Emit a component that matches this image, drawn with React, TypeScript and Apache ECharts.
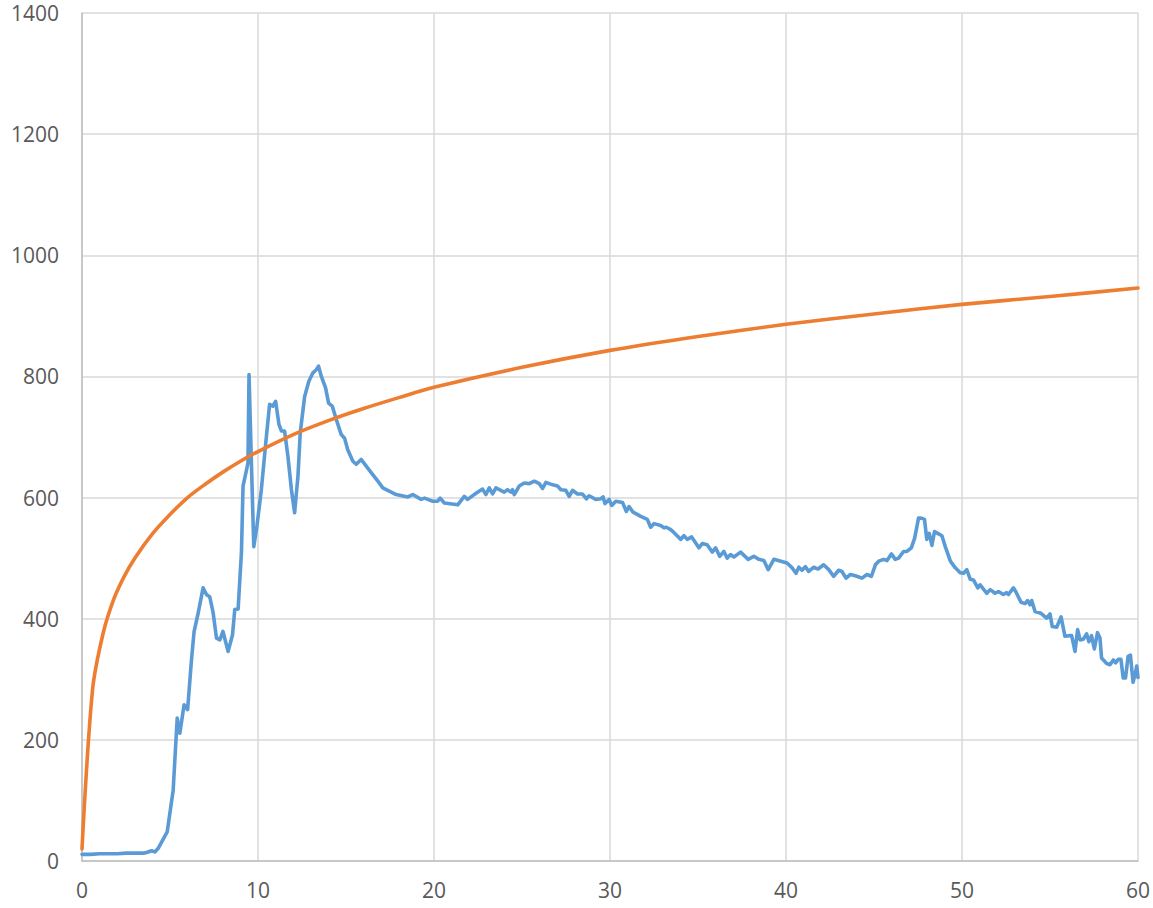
import React, { useEffect, useRef } from "react";
import * as echarts from "echarts";

const xTicks = [0, 10, 20, 30, 40, 50, 60];
const yTicks = [0, 200, 400, 600, 800, 1000, 1200, 1400];

const blueX = [
  0, 0.5, 1.0, 1.5, 2.0, 2.5, 3.0, 3.5, 3.67, 3.95, 4.14, 4.33, 4.84, 5.18, 5.41, 5.56, 5.8, 6.0, 6.22, 6.37,
  6.6, 6.88, 7.07, 7.26, 7.45, 7.64, 7.83, 8.01, 8.3, 8.55, 8.68, 8.87, 9.06, 9.15, 9.43, 9.49, 9.62, 9.76, 9.94, 10.19,
  10.44, 10.66, 10.85, 11.0, 11.19, 11.33, 11.51, 11.7, 11.9, 12.08, 12.27, 12.4, 12.65, 12.89, 13.12, 13.31, 13.44, 13.6, 13.84, 14.01,
  14.22, 14.45, 14.73, 14.92, 15.1, 15.39, 15.58, 15.86, 16.15, 16.52, 16.81, 17.09, 17.85, 18.51, 18.79, 19.27, 19.46, 19.93, 20.21, 20.35,
  20.59, 21.35, 21.72, 21.91, 22.39, 22.76, 22.95, 23.14, 23.33, 23.52, 23.99, 24.18, 24.37, 24.46, 24.56, 24.84, 25.13, 25.41, 25.7, 25.98,
  26.17, 26.36, 26.74, 27.02, 27.21, 27.49, 27.68, 27.87, 28.15, 28.43, 28.66, 28.81, 29.19, 29.48, 29.61, 29.72, 29.95, 30.1, 30.33, 30.71,
  30.93, 31.08, 31.31, 31.75, 32.12, 32.31, 32.5, 32.88, 33.07, 33.2, 33.45, 33.64, 34.02, 34.2, 34.39, 34.64, 34.87, 35.05, 35.24, 35.52,
  35.81, 36.0, 36.23, 36.47, 36.66, 36.85, 37.04, 37.42, 37.85, 38.17, 38.46, 38.74, 38.99, 39.31, 40.06, 40.35, 40.57, 40.73, 40.91, 41.1,
  41.29, 41.58, 41.82, 42.14, 42.43, 42.71, 42.99, 43.18, 43.41, 43.66, 43.94, 44.32, 44.6, 44.85, 45.08, 45.27, 45.55, 45.74, 45.99, 46.21,
  46.4, 46.68, 46.87, 47.12, 47.31, 47.53, 47.68, 47.87, 48.0, 48.14, 48.29, 48.44, 48.67, 48.86, 49.05, 49.34, 49.62, 49.9, 50.09, 50.27,
  50.47, 50.65, 50.9, 51.03, 51.41, 51.6, 51.88, 52.07, 52.35, 52.54, 52.64, 52.92, 53.05, 53.36, 53.58, 53.73, 53.87, 53.96, 54.15, 54.49,
  54.81, 55.0, 55.13, 55.38, 55.63, 55.85, 56.08, 56.23, 56.42, 56.57, 56.71, 56.89, 57.08, 57.21, 57.36, 57.52, 57.7, 57.84, 57.93, 58.22,
  58.41, 58.6, 58.73, 58.88, 59.03, 59.16, 59.29, 59.44, 59.57, 59.72, 59.85, 59.93, 60.0,
];

const blueY = [
  11, 11, 12, 12, 12, 13, 13, 13, 14, 17, 15, 21, 48, 117, 236, 211, 258, 250, 332, 379,
  409, 451, 440, 436, 410, 368, 365, 379, 346, 373, 415, 416, 510, 619, 657, 803, 663, 519, 553, 613,
  690, 754, 751, 759, 721, 710, 710, 668, 613, 575, 635, 707, 767, 792, 806, 811, 817, 800, 781, 756,
  751, 729, 704, 698, 679, 660, 655, 663, 652, 638, 627, 616, 605, 601, 605, 597, 599, 594, 594, 599,
  591, 588, 602, 597, 607, 614, 605, 616, 606, 616, 609, 613, 609, 613, 605, 619, 624, 623, 627, 623,
  615, 625, 621, 619, 613, 612, 602, 612, 606, 606, 598, 603, 597, 598, 601, 590, 597, 587, 594, 592,
  577, 585, 576, 569, 564, 551, 557, 554, 550, 551, 547, 542, 531, 537, 531, 535, 525, 517, 524, 522,
  510, 517, 503, 511, 500, 506, 502, 510, 498, 503, 498, 496, 481, 498, 492, 484, 475, 485, 480, 486,
  478, 485, 482, 489, 481, 470, 480, 478, 467, 473, 471, 467, 473, 470, 489, 495, 498, 496, 507, 498,
  500, 511, 511, 517, 533, 566, 566, 564, 531, 541, 521, 544, 540, 537, 519, 495, 484, 476, 475, 481,
  465, 464, 451, 456, 442, 448, 442, 445, 440, 443, 440, 451, 445, 427, 425, 430, 423, 430, 412, 409,
  401, 408, 387, 386, 403, 371, 372, 372, 346, 382, 365, 366, 375, 362, 372, 350, 377, 368, 335, 326,
  324, 332, 327, 333, 333, 302, 302, 338, 340, 295, 310, 322, 303,
];

const orangeX = [0, 0.6, 1.2, 1.8, 2.4, 3, 4, 5, 6, 7, 8, 9, 10, 12, 14, 16, 18, 20, 25, 30, 35, 40, 45, 50, 55, 60];
const orangeY = [20, 283, 376, 432, 470, 500, 540, 572, 600, 622, 642, 660, 676, 704, 727, 747, 765, 782, 815, 843, 866, 886, 903, 919, 932, 946];

export default function App() {
  const ref = useRef<HTMLDivElement>(null);
  useEffect(() => {
    if (!ref.current) return;
    const chart = echarts.init(ref.current, undefined, { renderer: "svg" });
    const blue = blueX.map((x, i) => [x, blueY[i]]);
    const orange = orangeX.map((x, i) => [x, orangeY[i]]);
    const labelStyle = {
      color: "#595959",
      fontSize: 21,
      fontFamily: "'Open Sans', sans-serif",
      formatter: (v: number) => String(v),
    };
    chart.setOption({
      animation: false,
      backgroundColor: "#ffffff",
      grid: { left: 82, right: 13, top: 13, bottom: 47, containLabel: false },
      xAxis: {
        type: "value",
        min: xTicks[0],
        max: xTicks[xTicks.length - 1],
        interval: xTicks[1] - xTicks[0],
        axisLine: { show: true, lineStyle: { color: "#bfbfbf", width: 1.5 } },
        axisTick: { show: false },
        axisLabel: { ...labelStyle, margin: 18 },
        splitLine: { show: true, lineStyle: { color: "#d9d9d9", width: 1.5 } },
      },
      yAxis: {
        type: "value",
        min: yTicks[0],
        max: yTicks[yTicks.length - 1],
        interval: yTicks[1] - yTicks[0],
        axisLine: { show: true, lineStyle: { color: "#bfbfbf", width: 1.5 } },
        axisTick: { show: false },
        axisLabel: { ...labelStyle, margin: 23 },
        splitLine: { show: true, lineStyle: { color: "#d9d9d9", width: 1.5 } },
      },
      series: [
        {
          type: "line",
          data: blue,
          showSymbol: false,
          symbol: "none",
          lineStyle: { color: "#5b9bd5", width: 3.6, cap: "round", join: "round" },
          itemStyle: { color: "#5b9bd5" },
        },
        {
          type: "line",
          data: orange,
          showSymbol: false,
          symbol: "none",
          smooth: 0.3,
          lineStyle: { color: "#ed7d31", width: 3.6, cap: "round", join: "round" },
          itemStyle: { color: "#ed7d31" },
        },
      ],
    });
    return () => chart.dispose();
  }, []);
  return (
    <div
      ref={ref}
      style={{ position: "fixed", left: 0, top: 0, width: 1153, height: 908, background: "#fff" }}
    />
  );
}
